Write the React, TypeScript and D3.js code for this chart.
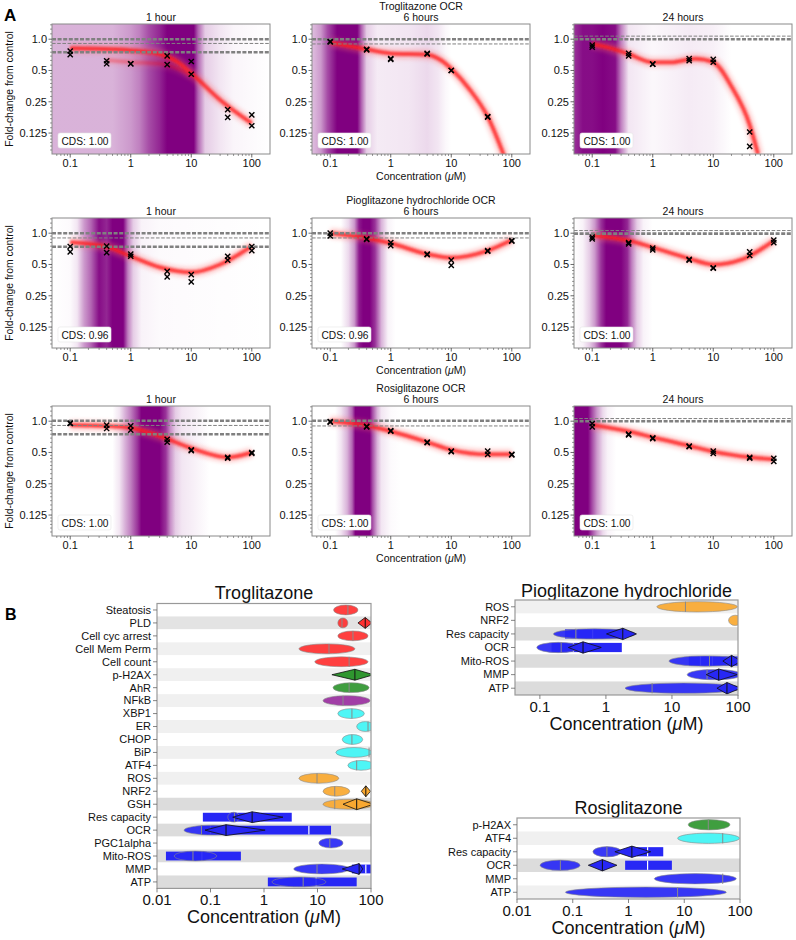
import * as d3 from 'd3'

const FONT = "'Liberation Sans', Arial, Helvetica, sans-serif"

// ---------- Panel A: OCR dose-response ----------
const CONC = [0.1, 0.4, 1, 4, 10, 40, 100]
const COMPOUNDS = ['Troglitazone OCR', 'Pioglitazone hydrochloride OCR', 'Rosiglitazone OCR']
const TIMES = ['1 hour', '6 hours', '24 hours']
const CDS = [
  ['1.00', '1.00', '1.00'],
  ['0.96', '0.96', '1.00'],
  ['1.00', '1.00', '1.00'],
]
const Y_TICKS = [1.0, 0.5, 0.25, 0.125]
const Y_TICK_LABELS = ['1.0', '0.5', '0.25', '0.125']
const X_TICKS_A = [0.1, 1, 10, 100]

// two replicate wells at each concentration (null = off the axis)
const trog1hA = [0.77, 0.62, 0.58, 0.69, 0.61, 0.21, 0.187]
const trog1hB = [0.71, 0.58, 0.58, 0.57, 0.46, 0.177, 0.147]
const trog6hA = [0.94, 0.79, 0.64, 0.72, 0.5, 0.178, null]
const trog6hB = [0.95, 0.8, 0.65, 0.73, 0.5, 0.18, null]
const trog24hA = [0.875, 0.73, 0.575, 0.65, 0.64, 0.128, null]
const trog24hB = [0.84, 0.69, 0.575, 0.62, 0.6, 0.093, null]
const pio1hA = [0.745, 0.75, 0.63, 0.43, 0.4, 0.6, 0.745]
const pio1hB = [0.66, 0.65, 0.6, 0.38, 0.34, 0.55, 0.68]
const pio6hA = [1.0, 0.88, 0.81, 0.63, 0.55, 0.68, 0.85]
const pio6hB = [0.94, 0.87, 0.76, 0.62, 0.49, 0.67, 0.84]
const pio24hA = [0.915, 0.81, 0.72, 0.56, 0.465, 0.66, 0.86]
const pio24hB = [0.88, 0.79, 0.69, 0.55, 0.46, 0.61, 0.81]
const rosi1hA = [0.96, 0.915, 0.9, 0.67, 0.53, 0.45, 0.5]
const rosi1hB = [0.95, 0.85, 0.82, 0.63, 0.52, 0.44, 0.49]
const rosi6hA = [0.99, 0.89, 0.81, 0.63, 0.515, 0.515, 0.48]
const rosi6hB = [0.98, 0.88, 0.8, 0.62, 0.51, 0.48, 0.475]
const rosi24hA = [0.95, 0.75, 0.69, 0.575, 0.515, 0.45, 0.44]
const rosi24hB = [0.88, 0.74, 0.68, 0.57, 0.49, 0.44, 0.41]

// fitted curve (conc, fold-change)
const trog1hCurve = [[0.1, 0.82], [0.5, 0.8], [1, 0.78], [3, 0.72], [6, 0.6], [10, 0.47], [30, 0.26], [100, 0.155]]
const trog1hAlt = [[0.4, 0.63], [1, 0.6], [3, 0.58], [6, 0.52], [10, 0.45]]
const trog6hCurve = [[0.1, 0.93], [0.4, 0.8], [1, 0.73], [4, 0.71], [7, 0.62], [10, 0.52], [20, 0.33], [40, 0.18], [75, 0.075]]
const trog24hCurve = [[0.1, 0.9], [0.2, 0.82], [0.4, 0.72], [1, 0.6], [2, 0.6], [5, 0.65], [10, 0.6], [20, 0.35], [40, 0.15], [55, 0.078]]
const pio1hCurve = [[0.1, 0.82], [0.4, 0.74], [1, 0.6], [3, 0.47], [10, 0.42], [30, 0.5], [100, 0.75]]
const pio6hCurve = [[0.1, 1.0], [0.4, 0.9], [1, 0.8], [4, 0.63], [10, 0.58], [40, 0.68], [100, 0.86]]
const pio24hCurve = [[0.1, 0.95], [0.4, 0.85], [1, 0.73], [4, 0.57], [10, 0.5], [30, 0.56], [100, 0.85]]
const rosi1hCurve = [[0.1, 0.92], [0.4, 0.9], [1, 0.86], [3, 0.72], [10, 0.55], [40, 0.45], [100, 0.5]]
const rosi6hCurve = [[0.1, 1.0], [0.4, 0.91], [1, 0.8], [4, 0.63], [10, 0.53], [40, 0.48], [100, 0.48]]
const rosi24hCurve = [[0.1, 0.92], [0.4, 0.8], [1, 0.7], [4, 0.58], [10, 0.51], [40, 0.45], [100, 0.43]]

// point-of-departure density shading (conc, opacity)
const trog1hDens = [[0.05, 0.3], [0.5, 0.3], [1, 0.4], [1.4, 0.5], [2, 0.7], [3, 0.85], [4, 1], [11, 1], [13, 0.6], [17, 0.2], [30, 0.1], [50, 0.04], [200, 0]]
const trog6hDens = [[0.05, 0.25], [0.07, 0.4], [0.09, 0.7], [0.13, 1], [0.28, 1], [0.33, 0.6], [0.4, 0.2], [0.6, 0.08], [2, 0.1], [4, 0.15], [6, 0.1], [8, 0.03], [10, 0]]
const trog24hDens = [[0.05, 0.8], [0.07, 0.95], [0.1, 0.95], [0.15, 1], [0.24, 0.95], [0.3, 0.5], [0.4, 0.1], [1, 0.03], [4, 0.08], [10, 0.06], [16, 0.02], [20, 0]]
const pio1hDens = [[0.05, 0], [0.1, 0.02], [0.13, 0.1], [0.17, 0.4], [0.22, 0.6], [0.3, 0.95], [0.4, 0.85], [0.5, 1], [0.75, 1], [0.9, 0.5], [1.1, 0.2], [1.5, 0.05], [3, 0.02], [200, 0]]
const pio6hDens = [[0.05, 0], [0.15, 0], [0.2, 0.15], [0.25, 0.4], [0.3, 0.9], [0.35, 1], [0.45, 1], [0.55, 0.8], [0.7, 0.3], [0.9, 0.05], [1.2, 0]]
const pio24hDens = [[0.05, 0], [0.07, 0.05], [0.09, 0.2], [0.11, 0.4], [0.14, 0.8], [0.17, 1], [0.3, 1], [0.38, 0.85], [0.45, 0.5], [0.55, 0.2], [0.7, 0.05], [1, 0]]
const rosi1hDens = [[0.5, 0], [0.65, 0.1], [0.8, 0.3], [1, 0.5], [1.3, 0.8], [1.5, 1], [3, 1], [3.8, 0.8], [4.5, 0.45], [5.5, 0.2], [7, 0.1], [12, 0.05], [20, 0]]
const rosi6hDens = [[0.12, 0], [0.15, 0.1], [0.19, 0.3], [0.23, 0.6], [0.26, 1], [0.45, 1], [0.5, 0.7], [0.6, 0.3], [0.7, 0.1], [1, 0.02], [1.5, 0]]
const rosi24hDens = [[0.05, 1], [0.085, 1], [0.1, 0.7], [0.12, 0.4], [0.15, 0.15], [0.18, 0.05], [0.25, 0]]

// control reference lines (value, thick)
const trog1hRef = [[1.0, 1], [0.91, 0], [0.75, 1]]
const trog6hRef = [[1.0, 1], [0.9, 0]]
const trog24hRef = [[1.07, 0], [1.0, 1]]
const pio1hRef = [[1.0, 1], [0.9, 0], [0.74, 1]]
const pio6hRef = [[1.0, 1], [0.9, 0]]
const pio24hRef = [[1.06, 0], [0.99, 1]]
const rosi1hRef = [[1.01, 1], [0.91, 0], [0.75, 1]]
const rosi6hRef = [[1.01, 1], [0.9, 0]]
const rosi24hRef = [[1.06, 0], [1.0, 1]]

const PANELS = [
  [trog1hA, trog1hB, [trog1hCurve, trog1hAlt], trog1hDens, trog1hRef],
  [trog6hA, trog6hB, [trog6hCurve], trog6hDens, trog6hRef],
  [trog24hA, trog24hB, [trog24hCurve], trog24hDens, trog24hRef],
  [pio1hA, pio1hB, [pio1hCurve], pio1hDens, pio1hRef],
  [pio6hA, pio6hB, [pio6hCurve], pio6hDens, pio6hRef],
  [pio24hA, pio24hB, [pio24hCurve], pio24hDens, pio24hRef],
  [rosi1hA, rosi1hB, [rosi1hCurve], rosi1hDens, rosi1hRef],
  [rosi6hA, rosi6hB, [rosi6hCurve], rosi6hDens, rosi6hRef],
  [rosi24hA, rosi24hB, [rosi24hCurve], rosi24hDens, rosi24hRef],
]

// ---------- Panel B: activity ranges ----------
const COLORS: Record<string, string> = {
  red: '#ff3030',
  green: '#2f962f',
  purple: '#9a2fa0',
  cyan: '#3ff5f5',
  orange: '#f9a830',
  blue: '#2727f5',
}

const TROG_LABELS = ['Steatosis', 'PLD', 'Cell cyc arrest', 'Cell Mem Perm', 'Cell count', 'p-H2AX', 'AhR', 'NFkB', 'XBP1', 'ER', 'CHOP', 'BiP', 'ATF4', 'ROS', 'NRF2', 'GSH', 'Res capacity', 'OCR', 'PGC1alpha', 'Mito-ROS', 'MMP', 'ATP']
const TROG_SHADE = ['#ffffff', '#e3e3e3', '#ffffff', '#f0f0f0', '#ffffff', '#f0f0f0', '#ffffff', '#f0f0f0', '#ffffff', '#f0f0f0', '#ffffff', '#f0f0f0', '#ffffff', '#f0f0f0', '#ffffff', '#dcdcdc', '#ffffff', '#dcdcdc', '#ffffff', '#dcdcdc', '#ffffff', '#dcdcdc']
// [row, low, high, median, colour]
const TROG_ELLIPSES = [
  [0, 20, 57, 37, 'red'], [1, 24, 37, 28.7, 'red'], [2, 24, 88, 46, 'red'],
  [3, 4.5, 50, 16.4, 'red'], [4, 8.9, 88, 39, 'red'], [6, 19.5, 92, 39, 'green'],
  [7, 12.7, 96, 30, 'purple'], [8, 24, 75, 44, 'cyan'], [9, 54, 115, 88, 'cyan'],
  [10, 29, 70, 44, 'cyan'], [11, 22, 105, 92, 'cyan'], [12, 37, 115, 54, 'cyan'],
  [13, 4.5, 25, 9.8, 'orange'], [14, 12.7, 40, 21, 'orange'], [15, 12.7, 115, 21, 'orange'],
  [16, 0.21, 0.35, 0.28, 'blue'], [17, 0.032, 0.39, 0.068, 'blue'], [18, 10.6, 30, 17, 'blue'],
  [19, 0.021, 0.13, 0.047, 'blue'], [20, 3.6, 40, 9.8, 'blue'], [21, 1.41, 14.4, 5.4, 'blue'],
]
// [row, low, high, white dividers]
const TROG_BOXES = [
  [16, 0.072, 3.3, [0.84]], [17, 0.069, 17.9, [0.1, 6.9]], [19, 0.0147, 0.37, [0.069]],
  [20, 44, 115, [52, 80]], [21, 1.18, 54, [9.4]],
]
const TROG_DIAMONDS = [
  [1, 57, 104, 78, 'red'], [5, 18.6, 112, 50, 'green'], [14, 66, 98, 80, 'orange'],
  [15, 30, 112, 54, 'orange'], [16, 0.26, 2.26, 0.6, 'blue'], [17, 0.079, 1.05, 0.195, 'blue'],
  [20, 29, 70, 60, 'blue'],
]

const PIO_LABELS = ['ROS', 'NRF2', 'Res capacity', 'OCR', 'Mito-ROS', 'MMP', 'ATP']
const PIO_SHADE = ['#f0f0f0', '#ffffff', '#dcdcdc', '#ffffff', '#dcdcdc', '#ffffff', '#dcdcdc']
const PIO_ELLIPSES = [
  [0, 5.9, 98, 16, 'orange'], [1, 72, 115, null, 'orange'], [2, 0.16, 2.8, 0.35, 'blue'],
  [3, 0.09, 0.4, 0.21, 'blue'], [4, 9, 115, 37, 'blue'], [5, 17, 115, 34, 'blue'],
  [6, 1.95, 115, 5, 'blue'],
]
const PIO_BOXES = [
  [2, 0.24, 1.9, [0.36, 0.63, 1.75]], [3, 0.15, 1.74, [0.32]], [4, 18, 115, [27, 41]],
]
const PIO_DIAMONDS = [
  [2, 1.02, 2.9, 1.8, 'blue'], [3, 0.27, 0.85, 0.45, 'blue'], [4, 59, 112, 80, 'blue'],
  [5, 33, 98, 51, 'blue'], [6, 48, 110, 68, 'blue'],
]

const ROSI_LABELS = ['p-H2AX', 'ATF4', 'Res capacity', 'OCR', 'MMP', 'ATP']
const ROSI_SHADE = ['#ffffff', '#f0f0f0', '#ffffff', '#dcdcdc', '#ffffff', '#f0f0f0']
const ROSI_ELLIPSES = [
  [0, 11.8, 66, 27, 'green'], [1, 7.6, 98, 49, 'cyan'], [2, 0.23, 0.74, 0.41, 'blue'],
  [3, 0.026, 0.135, 0.06, 'blue'], [4, 2.9, 86, 49, 'blue'], [5, 0.074, 57, 7.6, 'blue'],
]
const ROSI_BOXES = [[2, 1.41, 4.2, [2.2]], [3, 0.87, 6.0, [2.2]]]
const ROSI_DIAMONDS = [[2, 0.57, 2.5, 1.15, 'blue'], [3, 0.19, 0.62, 0.34, 'blue']]

const B_TICKS = [0.01, 0.1, 1, 10, 100]
const B_TICK_LABELS = ['0.01', '0.1', '1', '10', '100']

// ---------- layout ----------
const PANEL_W = 218
const PANEL_H = 130
const COL_X = [52, 312, 574]
const ROW_Y = [24, 218, 406]
const X_DOMAIN_A = [0.05, 200]
const Y_DOMAIN_A = [0.0786, 1.4]

const yMinor: number[] = []
for (let k = -4; k <= 0; k++) {
  for (let m = 1.125; m < 2; m += 0.125) {
    const v = Math.pow(2, k) * m
    if (v > Y_DOMAIN_A[0] && v < Y_DOMAIN_A[1]) yMinor.push(v)
  }
}
const xMinor: number[] = []
for (let k = -2; k <= 2; k++) {
  for (let m = 2; m <= 9; m++) {
    const v = Math.pow(10, k) * m
    if (v > X_DOMAIN_A[0] && v < X_DOMAIN_A[1]) xMinor.push(v)
  }
}

function ConcLabel({ x, y, size }: { x: number; y: number; size: number }) {
  return (
    <text x={x} y={y} textAnchor="middle" fontSize={size} fill="#111">
      Concentration (<tspan fontStyle="italic">μ</tspan>M)
    </text>
  )
}

function DosePanel({ idx }: { idx: number }) {
  const r = Math.floor(idx / 3)
  const c = idx % 3
  const left = COL_X[c]
  const top = ROW_Y[r]
  const right = left + PANEL_W
  const bottom = top + PANEL_H
  const [repA, repB, curves, dens, refs] = PANELS[idx] as any
  const x = d3.scaleLog().domain(X_DOMAIN_A).range([left, right])
  const y = d3.scaleLog().base(2).domain(Y_DOMAIN_A).range([bottom, top])
  const line = d3
    .line<number[]>()
    .x(d => x(d[0]))
    .y(d => y(d[1]))
    .curve(d3.curveMonotoneX)
  const gid = `dens${idx}`
  const cid = `clipA${idx}`

  const marks: JSX.Element[] = []
  ;[repA, repB].forEach((rep: (number | null)[], ri: number) => {
    rep.forEach((v, i) => {
      if (v == null) return
      const cx = x(CONC[i])
      const cy = y(v)
      const s = 2.6
      marks.push(
        <path
          key={`${ri}-${i}`}
          d={`M${cx - s},${cy - s}L${cx + s},${cy + s}M${cx - s},${cy + s}L${cx + s},${cy - s}`}
          stroke="#000"
          strokeWidth={1.4}
        />
      )
    })
  })

  return (
    <g>
      <defs>
        <linearGradient id={gid} gradientUnits="userSpaceOnUse" x1={left} x2={right} y1={0} y2={0}>
          {dens.map((d: number[], i: number) => (
            <stop
              key={i}
              offset={Math.max(0, Math.min(1, (x(d[0]) - left) / PANEL_W))}
              stopColor="#800080"
              stopOpacity={d[1]}
            />
          ))}
        </linearGradient>
        <clipPath id={cid}>
          <rect x={left} y={top} width={PANEL_W} height={PANEL_H} />
        </clipPath>
      </defs>
      <rect x={left} y={top} width={PANEL_W} height={PANEL_H} fill="#fff" />
      <rect x={left} y={top} width={PANEL_W} height={PANEL_H} fill={`url(#${gid})`} />
      <g clipPath={`url(#${cid})`}>
        {curves.map((cv: number[][], i: number) => (
          <g key={i} opacity={i === 0 ? 1 : 0.45}>
            <path d={line(cv) || ''} fill="none" stroke="#ff6a6a" strokeWidth={10} opacity={0.35} filter="url(#blurWide)" />
            <path d={line(cv) || ''} fill="none" stroke="#ff1f1f" strokeWidth={4} opacity={0.8} filter="url(#blurNarrow)" />
          </g>
        ))}
        {refs.map((rf: number[], i: number) => (
          <line
            key={i}
            x1={left}
            x2={right}
            y1={y(rf[0])}
            y2={y(rf[0])}
            stroke="#808080"
            strokeWidth={rf[1] ? 2.6 : 1}
            strokeDasharray={rf[1] ? '4 1.6' : '3.6 1.6'}
          />
        ))}
        {marks}
      </g>
      <rect x={left + 6} y={top + 109} width={53} height={15} rx={2} fill="#fff" stroke="#e6e6e6" strokeWidth={0.6} />
      <text x={left + 9.5} y={top + 120.5} fontSize={10.2} fill="#111">
        CDS: {CDS[r][c]}
      </text>
      <rect x={left} y={top} width={PANEL_W} height={PANEL_H} fill="none" stroke="#8a8a8a" strokeWidth={1} />
      {/* y axis */}
      {yMinor.map((v, i) => (
        <line key={`ym${i}`} x1={left - 2} x2={left} y1={y(v)} y2={y(v)} stroke="#555" strokeWidth={0.6} />
      ))}
      {Y_TICKS.map((v, i) => (
        <g key={`y${i}`}>
          <line x1={left - 3.5} x2={left} y1={y(v)} y2={y(v)} stroke="#444" strokeWidth={0.8} />
          <text x={left - 5} y={y(v)} dy="0.35em" textAnchor="end" fontSize={11} fill="#111">
            {Y_TICK_LABELS[i]}
          </text>
        </g>
      ))}
      {/* x axis */}
      {xMinor.map((v, i) => (
        <line key={`xm${i}`} x1={x(v)} x2={x(v)} y1={bottom} y2={bottom + 2} stroke="#555" strokeWidth={0.6} />
      ))}
      {X_TICKS_A.map((v, i) => (
        <g key={`x${i}`}>
          <line x1={x(v)} x2={x(v)} y1={bottom} y2={bottom + 3.5} stroke="#444" strokeWidth={0.8} />
          <text x={x(v)} y={bottom + 13} textAnchor="middle" fontSize={11} fill="#111">
            {d3.format('~g')(v)}
          </text>
        </g>
      ))}
      {/* titles */}
      {c === 1 && (
        <text x={left + PANEL_W / 2} y={top - 14} textAnchor="middle" fontSize={10.5} fill="#111">
          {COMPOUNDS[r]}
        </text>
      )}
      <text x={left + PANEL_W / 2} y={top - 3} textAnchor="middle" fontSize={10.5} fill="#111">
        {TIMES[c]}
      </text>
      {c === 1 && <ConcLabel x={left + PANEL_W / 2} y={top + 156} size={10.5} />}
      {c === 0 && (
        <text
          transform={`translate(13,${top + PANEL_H / 2}) rotate(-90)`}
          textAnchor="middle"
          fontSize={10.4}
          fill="#111"
        >
          Fold-change from control
        </text>
      )}
    </g>
  )
}

type RangeProps = {
  id: string
  title: string
  labels: string[]
  shade: string[]
  ellipses: any[]
  boxes: any[]
  diamonds: any[]
  domain: number[]
  ticks: number[]
  x0: number
  x1: number
  y0: number
  rowH: number
  titleY: number
}

function RangePanel(p: RangeProps) {
  const x = d3.scaleLog().domain(p.domain).range([p.x0, p.x1])
  const n = p.labels.length
  const y1 = p.y0 + n * p.rowH
  const yc = (row: number) => p.y0 + (row + 0.5) * p.rowH
  const ry = p.rowH * 0.38
  const bh = p.rowH * 0.34
  const dh = p.rowH * 0.42
  const cid = `clipB${p.id}`
  return (
    <g>
      <defs>
        <clipPath id={cid}>
          <rect x={p.x0} y={p.y0} width={p.x1 - p.x0} height={y1 - p.y0} />
        </clipPath>
      </defs>
      <text x={(p.x0 + p.x1) / 2} y={p.titleY} textAnchor="middle" fontSize={18} fill="#111">
        {p.title}
      </text>
      {p.shade.map((s, i) => (
        <rect key={i} x={p.x0} y={p.y0 + i * p.rowH} width={p.x1 - p.x0} height={p.rowH} fill={s} />
      ))}
      <g clipPath={`url(#${cid})`}>
        {p.boxes.map((b, i) => (
          <g key={`b${i}`}>
            <rect x={x(b[1])} y={yc(b[0]) - bh} width={x(b[2]) - x(b[1])} height={bh * 2} fill={COLORS.blue} />
            {b[3].map((w: number, j: number) => (
              <line key={j} x1={x(w)} x2={x(w)} y1={yc(b[0]) - bh} y2={yc(b[0]) + bh} stroke="#fff" strokeWidth={1.2} />
            ))}
          </g>
        ))}
        {p.ellipses.map((e, i) => {
          const cx = (x(e[1]) + x(e[2])) / 2
          const rx = (x(e[2]) - x(e[1])) / 2
          return (
            <g key={`e${i}`}>
              <ellipse cx={cx} cy={yc(e[0])} rx={rx} ry={ry} fill={COLORS[e[4]]} fillOpacity={0.92} stroke="#8a8a8a" strokeWidth={0.6} />
              {e[3] != null && (
                <line x1={x(e[3])} x2={x(e[3])} y1={yc(e[0]) - ry} y2={yc(e[0]) + ry} stroke="#8a8a8a" strokeWidth={1} />
              )}
            </g>
          )
        })}
        {p.diamonds.map((d, i) => {
          const cy = yc(d[0])
          const lo = x(d[1])
          const hi = x(d[2])
          const md = x(d[3])
          return (
            <g key={`d${i}`}>
              <path
                d={`M${lo},${cy}L${md},${cy - dh}L${hi},${cy}L${md},${cy + dh}Z`}
                fill={COLORS[d[4]]}
                stroke="#111"
                strokeWidth={0.8}
              />
              <line x1={md} x2={md} y1={cy - dh} y2={cy + dh} stroke="#111" strokeWidth={1} />
            </g>
          )
        })}
      </g>
      <rect x={p.x0} y={p.y0} width={p.x1 - p.x0} height={y1 - p.y0} fill="none" stroke="#999" strokeWidth={1.2} />
      {p.labels.map((l, i) => (
        <g key={`l${i}`}>
          <line x1={p.x0 - 4} x2={p.x0} y1={yc(i)} y2={yc(i)} stroke="#666" strokeWidth={0.8} />
          <text x={p.x0 - 6} y={yc(i)} dy="0.35em" textAnchor="end" fontSize={11} fill="#111">
            {l}
          </text>
        </g>
      ))}
      {p.ticks.map(t => (
        <g key={`t${t}`}>
          <line x1={x(t)} x2={x(t)} y1={y1} y2={y1 + 4} stroke="#666" strokeWidth={0.8} />
          <text x={x(t)} y={y1 + 17} textAnchor="middle" fontSize={15} fill="#111">
            {B_TICK_LABELS[B_TICKS.indexOf(t)]}
          </text>
        </g>
      ))}
      <ConcLabel x={(p.x0 + p.x1) / 2} y={y1 + 35} size={18} />
    </g>
  )
}

export default function App() {
  return (
    <>
      <style>{`body{margin:0}`}</style>
      <svg width={796} height={940} style={{ display: 'block', fontFamily: FONT, background: '#fff' }}>
        <defs>
          <filter id="blurWide" filterUnits="userSpaceOnUse" x={0} y={0} width={796} height={940}>
            <feGaussianBlur stdDeviation={2.2} />
          </filter>
          <filter id="blurNarrow" filterUnits="userSpaceOnUse" x={0} y={0} width={796} height={940}>
            <feGaussianBlur stdDeviation={0.9} />
          </filter>
        </defs>
        <text x={4} y={21} fontSize={17} fontWeight="bold" fill="#000">A</text>
        <text x={5} y={620} fontSize={16} fontWeight="bold" fill="#000">B</text>
        {PANELS.map((_, i) => (
          <DosePanel key={i} idx={i} />
        ))}
        <RangePanel
          id="trog"
          title="Troglitazone"
          labels={TROG_LABELS}
          shade={TROG_SHADE}
          ellipses={TROG_ELLIPSES}
          boxes={TROG_BOXES}
          diamonds={TROG_DIAMONDS}
          domain={[0.01, 100]}
          ticks={[0.01, 0.1, 1, 10, 100]}
          x0={157}
          x1={371}
          y0={603.5}
          rowH={12.95}
          titleY={599}
        />
        <RangePanel
          id="pio"
          title="Pioglitazone hydrochloride"
          labels={PIO_LABELS}
          shade={PIO_SHADE}
          ellipses={PIO_ELLIPSES}
          boxes={PIO_BOXES}
          diamonds={PIO_DIAMONDS}
          domain={[0.042, 100]}
          ticks={[0.1, 1, 10, 100]}
          x0={515}
          x1={738}
          y0={600}
          rowH={13.57}
          titleY={597}
        />
        <RangePanel
          id="rosi"
          title="Rosiglitazone"
          labels={ROSI_LABELS}
          shade={ROSI_SHADE}
          ellipses={ROSI_ELLIPSES}
          boxes={ROSI_BOXES}
          diamonds={ROSI_DIAMONDS}
          domain={[0.01, 100]}
          ticks={[0.01, 0.1, 1, 10, 100]}
          x0={517}
          x1={740}
          y0={818}
          rowH={13.5}
          titleY={814}
        />
      </svg>
    </>
  )
}
